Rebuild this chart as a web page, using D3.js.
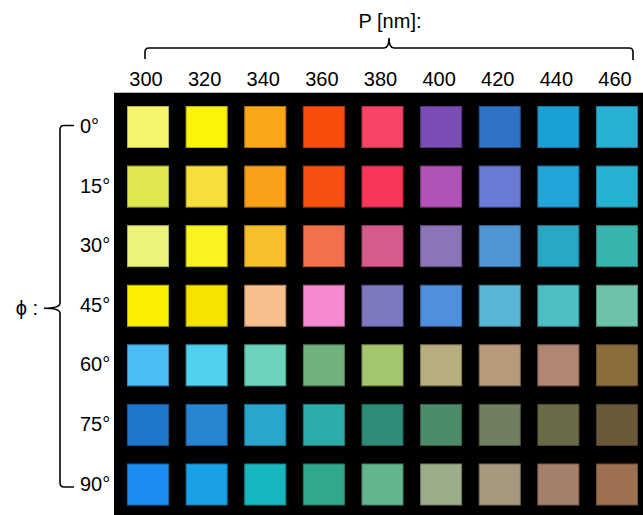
<!DOCTYPE html>
<html><head><meta charset="utf-8">
<script src="https://cdn.jsdelivr.net/npm/d3@7"></script>
<style>html,body{margin:0;padding:0;background:#fff;}svg{display:block;}</style>
</head><body>
<script>
const periods = [300, 320, 340, 360, 380, 400, 420, 440, 460];
const angles = ["0°", "15°", "30°", "45°", "60°", "75°", "90°"];
const row0  = ["#f6f66c", "#fbf40a", "#fba616", "#fa4c0c", "#f94468", "#7b4cb3", "#2f72c8", "#1aa2d6", "#26b1d4"];
const row15 = ["#e0e850", "#f8e03c", "#f9a118", "#f85010", "#f8365a", "#b152b6", "#6a7bd6", "#22a5d9", "#26b3d3"];
const row30 = ["#edf27a", "#fbf222", "#f9be2c", "#f2704a", "#d75a8d", "#8d73b8", "#5096d4", "#2aa7c4", "#39b3ae"];
const row45 = ["#fbf000", "#f5e400", "#f8bf8e", "#f68ad2", "#7d79c1", "#4f90dc", "#59b6d6", "#4dc0c6", "#6dc3aa"];
const row60 = ["#4dbdf5", "#50cfef", "#6dd3bf", "#72b07e", "#a4c66c", "#b6ae7c", "#b99b7c", "#b18774", "#8b6c3c"];
const row75 = ["#1f78cc", "#2885d2", "#2aa6ce", "#2cacac", "#2e8c78", "#4d8c6a", "#6f7f60", "#6b6b48", "#6a5a38"];
const row90 = ["#1c8cf2", "#1aa0e6", "#18b6be", "#30a88e", "#62b68e", "#9aae8a", "#a69a7e", "#a47f6a", "#9c7050"];
const colorRows = [row0, row15, row30, row45, row60, row75, row90];

const W = 643, H = 515;
const svg = d3.select("body").append("svg").attr("width", W).attr("height", H);
const font = "'Liberation Sans', Arial, sans-serif";
const fs = 20;

// black panel
svg.append("rect").attr("x", 114).attr("y", 92).attr("width", W - 114).attr("height", H - 92).attr("fill", "#000");
svg.append("line").attr("x1", 114).attr("x2", W).attr("y1", 92.5).attr("y2", 92.5).attr("stroke", "#bbb").attr("stroke-width", 1);

const x = d3.scaleBand().domain(periods).range([127.5, 637.5]).paddingInner(0.30).paddingOuter(0);
const y = d3.scaleBand().domain(angles).range([106.5, 505]).paddingInner(0.312).paddingOuter(0);
const cx = d => x(d) + x.bandwidth() / 2;
const cy = d => y(d) + y.bandwidth() / 2;

const cells = [];
angles.forEach((a, i) => periods.forEach((p, j) => cells.push({a, p, c: colorRows[i][j]})));
svg.append("g").selectAll("rect").data(cells).join("rect")
  .attr("x", d => x(d.p)).attr("y", d => y(d.a))
  .attr("width", x.bandwidth()).attr("height", y.bandwidth())
  .attr("fill", d => d.c)
  .attr("stroke", d => d3.color(d.c).darker(0.9)).attr("stroke-width", 1);

// column labels
svg.append("g").selectAll("text").data(periods).join("text")
  .attr("x", d => cx(d) - 2).attr("y", 86)
  .attr("text-anchor", "middle").attr("font-family", font).attr("font-size", fs).attr("fill", "#000")
  .text(d => d);

// row labels
svg.append("g").selectAll("text").data(angles).join("text")
  .attr("x", 80).attr("y", d => cy(d) + 6)
  .attr("text-anchor", "start").attr("font-family", font).attr("font-size", fs).attr("fill", "#000")
  .text(d => d);

// top brace
const bx0 = 145, bx1 = 633, bmid = 389, by = 48;
svg.append("path")
  .attr("d", `M${bx0},59 L${bx0},${by + 4} Q${bx0},${by} ${bx0 + 4},${by} L${bmid - 5},${by} Q${bmid},${by} ${bmid},${by - 10} Q${bmid},${by} ${bmid + 5},${by} L${bx1 - 4},${by} Q${bx1},${by} ${bx1},${by + 4} L${bx1},60`)
  .attr("fill", "none").attr("stroke", "#000").attr("stroke-width", 1.6);
svg.append("text").attr("x", 390).attr("y", 28).attr("text-anchor", "middle")
  .attr("font-family", font).attr("font-size", fs).text("P [nm]:");

// left brace
const ly0 = cy(angles[0]) - 1.5, ly1 = cy(angles[angles.length - 1]) + 2.5;
const lx = 60, lmid = cy(angles[3]) + 2.5;
svg.append("path")
  .attr("d", `M74,${ly0} L${lx + 4},${ly0} Q${lx},${ly0} ${lx},${ly0 + 4} L${lx},${lmid - 5} Q${lx},${lmid} ${lx - 16},${lmid} Q${lx},${lmid} ${lx},${lmid + 5} L${lx},${ly1 - 4} Q${lx},${ly1} ${lx + 4},${ly1} L74,${ly1}`)
  .attr("fill", "none").attr("stroke", "#000").attr("stroke-width", 1.6);
svg.append("text").attr("x", 38).attr("y", lmid + 7).attr("text-anchor", "end")
  .attr("font-family", font).attr("font-size", fs).text("ϕ :");
</script>
</body></html>
